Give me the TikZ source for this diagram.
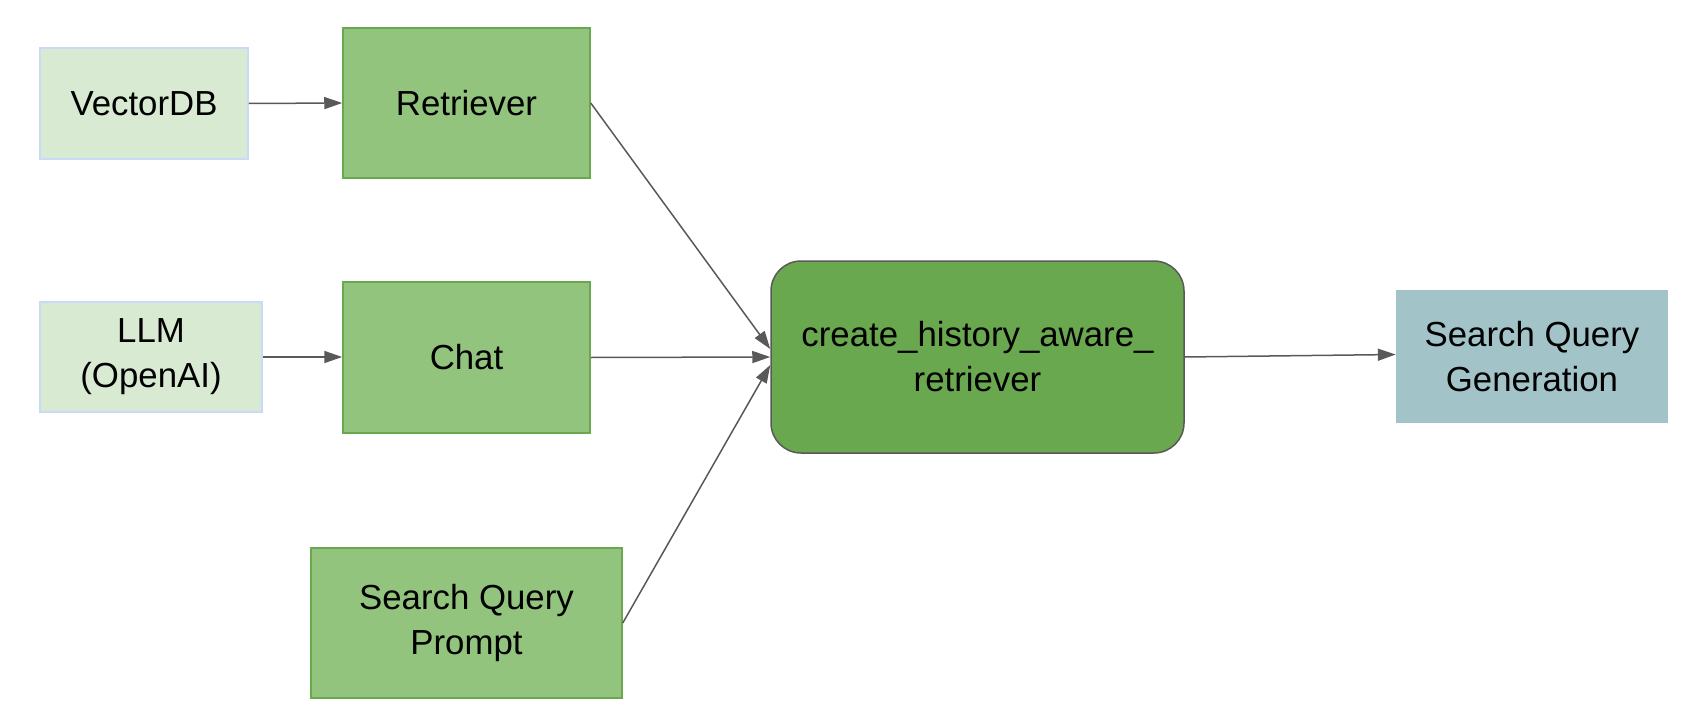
\documentclass[tikz,border=0pt]{standalone}
\usepackage{fontspec}
\setmainfont{Liberation Sans}
\usetikzlibrary{arrows.meta}
\definecolor{lightg}{HTML}{D9EAD3}
\definecolor{lightb}{HTML}{C9DAF8}
\definecolor{midg}{HTML}{93C47D}
\definecolor{darkg}{HTML}{6AA84F}
\definecolor{edgegray}{HTML}{595959}
\definecolor{teal}{HTML}{A2C4C9}
\begin{document}
\begin{tikzpicture}[x=1pt,y=-1pt,
  txt/.style={font=\fontsize{34.8}{45}\selectfont, align=center, inner sep=0pt, text=black},
  srcbox/.style={txt, fill=lightg, draw=lightb, line width=1.5pt},
  gbox/.style={txt, fill=midg, draw=darkg, line width=1.5pt},
  corebox/.style={txt, fill=darkg, draw=edgegray, line width=1.5pt, rounded corners=30pt},
  outbox/.style={txt, fill=teal, draw=none},
  conn/.style={draw=edgegray, line width=1.5pt, -{Triangle[length=18pt,width=12pt]}}]
\useasboundingbox (0,0) rectangle (1682,720);
\node[srcbox, minimum width=208pt, minimum height=111pt] (vdb) at (144,103.5) {VectorDB};
\node[gbox, minimum width=247pt, minimum height=150pt] (ret) at (466.5,103) {Retriever};
\node[srcbox, minimum width=222pt, minimum height=110pt] (llm) at (151,357) {LLM\\(OpenAI)};
\node[gbox, minimum width=247pt, minimum height=151pt] (chat) at (466.5,357.5) {Chat};
\node[gbox, minimum width=311pt, minimum height=150pt] (sqp) at (466.5,623) {Search Query\\Prompt};
\node[corebox, minimum width=413pt, minimum height=192pt] (core) at (977.5,357) {create\_history\_aware\_\\retriever};
\node[outbox, minimum width=272pt, minimum height=133pt] (sqg) at (1532,356.5) {Search Query\\Generation};
\draw[conn] (vdb.east) -- (ret.west);
\draw[conn] (llm.east) -- (llm.east -| chat.west);
\draw[conn] (ret.east) -- ([yshift=8pt]core.west);
\draw[conn] (chat.east) -- (core.west);
\draw[conn] (sqp.east) -- ([yshift=-8pt]core.west);
\draw[conn] (core.east) -- ([yshift=2pt]sqg.west);
\end{tikzpicture}
\end{document}
